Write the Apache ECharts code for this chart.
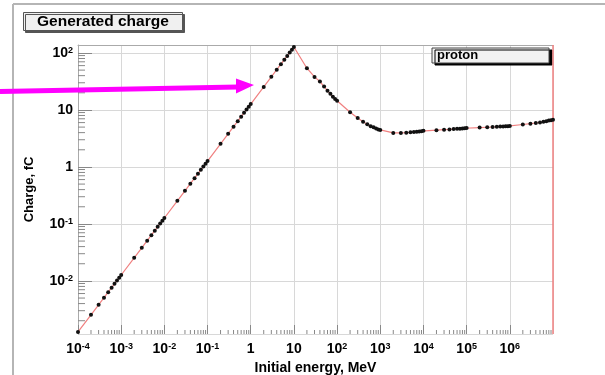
<!DOCTYPE html>
<html>
<head>
<meta charset="utf-8">
<script src="https://cdn.jsdelivr.net/npm/echarts@6/dist/echarts.min.js"></script>
<style>
  html, body { margin: 0; padding: 0; background: #fff; }
  #chart { width: 605px; height: 375px; }
</style>
</head>
<body>
<div id="chart"></div>
<script>
// initial energy, MeV
const energy = [
  1e-4, 2e-4, 3e-4, 4e-4, 5e-4, 6e-4, 7e-4, 8e-4, 9e-4,
  1e-3, 2e-3, 3e-3, 4e-3, 5e-3, 6e-3, 7e-3, 8e-3, 9e-3,
  1e-2, 2e-2, 3e-2, 4e-2, 5e-2, 6e-2, 7e-2, 8e-2, 9e-2,
  0.1, 0.2, 0.3, 0.4, 0.5, 0.6, 0.7, 0.8, 0.9,
  1, 2, 3, 4, 5, 6, 7, 8, 9,
  10, 20, 30, 40, 50, 60, 70, 80, 90,
  100, 200, 300, 400, 500, 600, 700, 800, 900,
  1e3, 2e3, 3e3, 4e3, 5e3, 6e3, 7e3, 8e3, 9e3,
  1e4, 2e4, 3e4, 4e4, 5e4, 6e4, 7e4, 8e4, 9e4,
  1e5, 2e5, 3e5, 4e5, 5e5, 6e5, 7e5, 8e5, 9e5,
  1e6, 2e6, 3e6, 4e6, 5e6, 6e6, 7e6, 8e6, 9e6,
  1e7
];
// generated charge, fC
const charge = [
  0.00127, 0.00254, 0.00381, 0.00508, 0.00635, 0.00762, 0.00889, 0.0102, 0.0114,
  0.0127, 0.0254, 0.0381, 0.0508, 0.0635, 0.0762, 0.0889, 0.102, 0.114,
  0.127, 0.254, 0.381, 0.508, 0.635, 0.762, 0.889, 1.02, 1.14,
  1.27, 2.54, 3.81, 5.08, 6.35, 7.62, 8.89, 10.2, 11.4,
  12.7, 25.4, 38.1, 50.8, 63.5, 76.2, 88.9, 102, 114,
  127, 54, 38, 31.5, 25.7, 21.8, 19.2, 17, 15.6,
  14.5, 9.1, 7.2, 6.2, 5.6, 5.2, 4.95, 4.75, 4.55,
  4.45, 3.95, 3.95, 4.0, 4.05, 4.1, 4.15, 4.2, 4.25,
  4.3, 4.42, 4.5, 4.56, 4.62, 4.66, 4.7, 4.74, 4.77,
  4.8, 4.9, 4.97, 5.02, 5.06, 5.1, 5.13, 5.16, 5.2,
  5.25, 5.55, 5.75, 5.9, 6.05, 6.2, 6.35, 6.5, 6.6,
  6.7
];
const xRange = [1e-4, 1e7];
const yRange = [0.00117, 138];
const minorMult = [2, 3, 4, 5, 6, 7, 8, 9];

const FONT = 'Liberation Sans, Arial, sans-serif';
const RED = '#f08080';

function powLabel(v) {
  const k = Math.round(Math.log10(v));
  if (k === 0) return '1';
  if (k === 1) return '10';
  return '10{s|' + k + '}';
}

// minor ticks at 2..9 x 10^k, placed through the axes
const xMinor = [];
for (let k = -4; k <= 6; k++) {
  minorMult.forEach((m) => xMinor.push([m * Math.pow(10, k), yRange[0]]));
}
const yMinor = [];
for (let k = -3; k <= 2; k++) {
  minorMult.forEach((m) => {
    const v = m * Math.pow(10, k);
    if (v > yRange[0] && v < yRange[1]) yMinor.push([xRange[0], v]);
  });
}
function tickRenderer(dx, dy) {
  return function (params, api) {
    const p = api.coord([api.value(0), api.value(1)]);
    return {
      type: 'line',
      shape: { x1: p[0], y1: p[1], x2: p[0] + dx, y2: p[1] + dy },
      style: { stroke: '#888', lineWidth: 1 },
    };
  };
}

const richSup = {
  s: { fontSize: 9, fontWeight: 'bold', fontFamily: FONT, color: '#000', verticalAlign: 'top', lineHeight: 9 },
};

const chart = echarts.init(document.getElementById('chart'));
const option = {
  animation: false,
  backgroundColor: '#fff',
  textStyle: { fontFamily: FONT },
  title: {
    text: 'Generated charge',
    left: 23,
    top: 12,
    padding: [2, 14, 1, 14],
    backgroundColor: '#f0f0f0',
    borderColor: '#555',
    borderWidth: 1,
    shadowColor: '#555',
    shadowBlur: 0,
    shadowOffsetX: 2,
    shadowOffsetY: 2,
    textStyle: { fontSize: 15.5, fontWeight: 'bold', color: '#000', fontFamily: FONT },
  },
  legend: {
    data: ['proton'],
    left: 432,
    top: 48,
    icon: 'none',
    itemWidth: 0,
    itemHeight: 0,
    padding: [1, 0, 1, 0],
    backgroundColor: '#f2f2f2',
    borderColor: '#444',
    borderWidth: 1,
    shadowColor: '#000',
    shadowBlur: 0,
    shadowOffsetX: 3,
    shadowOffsetY: 2,
    formatter: '{a|{name}}',
    textStyle: {
      fontSize: 13,
      fontWeight: 'bold',
      color: '#000',
      fontFamily: FONT,
      rich: {
        a: { fontSize: 13, fontWeight: 'bold', color: '#000', fontFamily: FONT, width: 112, lineHeight: 16 },
      },
    },
  },
  grid: {
    left: 78,
    right: 52,
    top: 45,
    bottom: 41,
    show: false,
    containLabel: false,
    outerBoundsMode: 'none',
  },
  xAxis: [
    {
      type: 'log',
      logBase: 10,
      min: xRange[0],
      max: xRange[1],
      interval: 1,
      name: 'Initial energy, MeV',
      nameLocation: 'middle',
      nameGap: 17,
      nameTextStyle: { fontSize: 14, fontWeight: 'bold', color: '#000', fontFamily: FONT },
      axisLine: { show: false },
      axisTick: { show: true, inside: true, length: 9, lineStyle: { color: '#888' } },
      axisLabel: {
        margin: 8,
        fontSize: 14,
        fontWeight: 'bold',
        color: '#000',
        fontFamily: FONT,
        showMaxLabel: false,
        formatter: powLabel,
        rich: richSup,
      },
      splitLine: { show: true, lineStyle: { color: '#d8d8d8', width: 1 } },
    },
    {
      type: 'log',
      logBase: 10,
      min: xRange[0],
      max: xRange[1],
      interval: 1,
      position: 'top',
      axisLine: { show: true, lineStyle: { color: '#aaa', width: 1 } },
      axisTick: { show: false },
      axisLabel: { show: false },
      splitLine: { show: false },
    },
  ],
  yAxis: {
    type: 'log',
    logBase: 10,
    min: yRange[0],
    max: yRange[1],
    name: 'Charge, fC',
    nameLocation: 'middle',
    nameGap: 42,
    nameTextStyle: { fontSize: 13, fontWeight: 'bold', color: '#000', fontFamily: FONT },
    axisLine: { show: true, lineStyle: { color: '#aaa' } },
    axisTick: { show: true, inside: true, length: 14, lineStyle: { color: '#888' } },
    axisLabel: {
      margin: 5,
      fontSize: 14,
      fontWeight: 'bold',
      color: '#000',
      fontFamily: FONT,
      showMinLabel: false,
      showMaxLabel: false,
      formatter: powLabel,
      rich: richSup,
    },
    splitLine: { show: true, lineStyle: { color: '#d8d8d8', width: 1 } },
  },
  series: [
    {
      type: 'custom',
      name: 'xminor',
      silent: true,
      renderItem: tickRenderer(0, -4),
      data: xMinor,
      z: 3,
    },
    {
      type: 'custom',
      name: 'yminor',
      silent: true,
      renderItem: tickRenderer(7, 0),
      data: yMinor,
      z: 3,
    },
    {
      name: 'proton',
      type: 'line',
      data: energy.map((e, i) => [e, charge[i]]),
      symbol: 'circle',
      symbolSize: 4,
      showSymbol: true,
      clip: false,
      itemStyle: { color: '#111' },
      lineStyle: { color: RED, width: 1.2 },
      z: 5,
      markLine: {
        silent: true,
        symbol: 'none',
        label: { show: false },
        lineStyle: { color: RED, type: 'solid', width: 1.5 },
        data: [{ xAxis: xRange[1] }, { yAxis: yRange[0] }],
      },
    },
  ],
  graphic: [
    { type: 'line', shape: { x1: 13, y1: 4, x2: 13, y2: 375 }, style: { stroke: '#b5b5b5', lineWidth: 2 } },
    { type: 'line', shape: { x1: 13, y1: 4, x2: 605, y2: 4 }, style: { stroke: '#b5b5b5', lineWidth: 2 } },
    { type: 'polyline', shape: { points: [[0, 91.5], [238, 87]] }, style: { stroke: '#ff00ff', lineWidth: 5 }, z: 100 },
    { type: 'polygon', shape: { points: [[236, 78.5], [254, 85], [236, 93.5]] }, style: { fill: '#ff00ff' }, z: 100 },
  ],
};
chart.setOption(option);
</script>
</body>
</html>
